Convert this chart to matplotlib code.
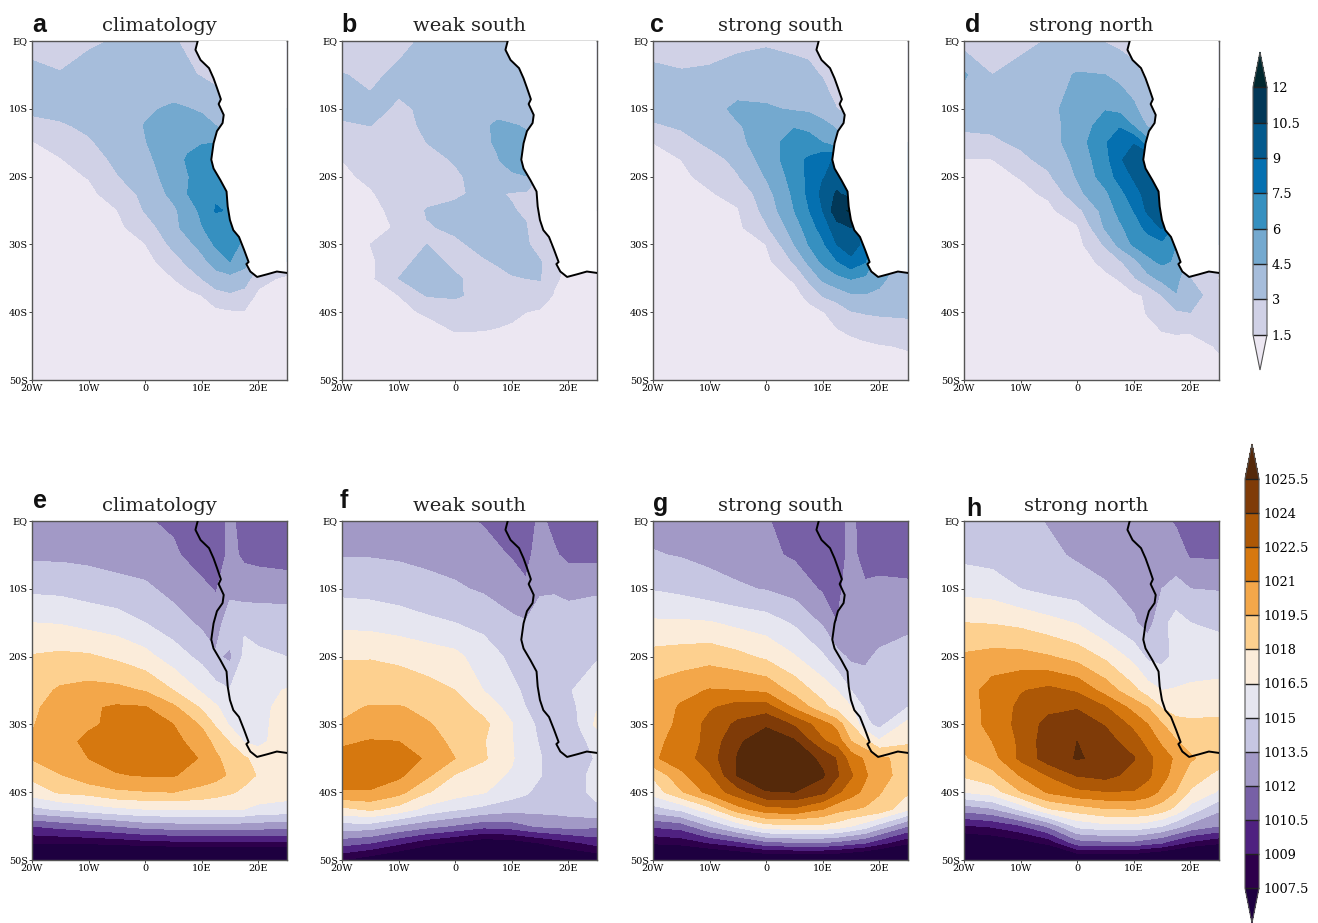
import matplotlib
matplotlib.use('Agg')
import matplotlib.pyplot as plt

# grid of the top row (wind speed)
wind_lons = [-20, -15, -10, -5, 0, 5, 7.5, 10, 12.5, 15, 17.5, 20, 25]
wind_lats = [0, -5, -10, -12.5, -15, -17.5, -20, -22.5, -25, -27.5, -30, -32.5, -35, -37.5, -40, -45, -50]

wind_a = [
    [2.6, 2.2, 2.8, 3.1, 3.3, 3.1, 2.8, 2.5, 2.5, 2.5, 2.5, 2.5, 2.5],
    [3.3, 3.1, 3.5, 3.7, 3.8, 3.5, 3.2, 2.9, 2.6, 2.5, 2.5, 2.5, 2.5],
    [3.3, 3.5, 3.6, 3.8, 4.3, 4.7, 4.55, 4.3, 3.8, 3.2, 3, 3, 3],
    [2.55, 2.8, 3.3, 3.7, 4.55, 5.1, 5.1, 5.0, 4.5, 4, 4, 4, 4],
    [1.4, 2.1, 2.8, 3.7, 4.45, 5.2, 5.6, 5.9, 6, 5, 4, 4, 4],
    [1.0, 1.4, 2.3, 3.3, 4.2, 5.2, 6.2, 6.7, 7.6, 6, 5, 4, 4],
    [0.8, 1.2, 1.55, 2.9, 3.9, 5.1, 5.9, 6.7, 7.2, 6.5, 5, 4, 4],
    [0.7, 0.9, 1.2, 2.1, 3.4, 4.9, 6.0, 6.9, 7.3, 6.8, 5, 4, 4],
    [0.6, 0.8, 1.0, 1.45, 3.1, 4.2, 5.2, 6.3, 7.6, 7.4, 5, 4, 4],
    [0.6, 0.7, 0.9, 1.2, 2.2, 4.1, 5.0, 5.9, 6.8, 7.2, 5.5, 4, 4],
    [0.5, 0.6, 0.8, 1.0, 1.45, 3.4, 4.1, 5.0, 6.2, 6.9, 5.5, 4, 4],
    [0.5, 0.6, 0.7, 0.9, 1.0, 2.3, 3.3, 4.0, 5.2, 6.0, 5.0, 3.5, 3],
    [0.5, 0.5, 0.6, 0.7, 0.8, 1.5, 2.2, 3.0, 3.8, 4.0, 3.8, 2.0, 1.2],
    [0.5, 0.5, 0.6, 0.6, 0.7, 1.0, 1.1, 1.5, 2.5, 2.8, 2.4, 1.2, 1.0],
    [0.4, 0.5, 0.5, 0.6, 0.6, 0.6, 0.6, 0.8, 1.1, 1.3, 1.4, 1.0, 0.8],
    [0.5, 0.5, 0.5, 0.5, 0.5, 0.5, 0.5, 0.5, 0.5, 0.5, 0.5, 0.5, 0.5],
    [0.4, 0.4, 0.4, 0.4, 0.4, 0.4, 0.4, 0.4, 0.4, 0.4, 0.4, 0.4, 0.4],
]
wind_b = [
    [2.0, 2.0, 2.7, 3.2, 3.4, 3.5, 3.4, 3.3, 3, 3, 3, 3, 3],
    [3.05, 2.8, 3.2, 3.4, 3.6, 3.6, 3.5, 3.3, 2.9, 2.8, 3, 3, 3],
    [3.4, 3.2, 2.9, 3.1, 3.6, 4.0, 4.1, 3.8, 3.5, 3, 3, 3, 3],
    [2.8, 3.0, 2.8, 3.1, 3.6, 4.3, 4.7, 4.6, 4.4, 3.5, 3, 3, 3],
    [2.4, 2.6, 2.4, 3.0, 3.4, 4.2, 4.7, 4.9, 4.8, 4, 3, 3, 3],
    [1.5, 2.2, 2.4, 2.6, 3.1, 3.8, 4.4, 5.2, 6.1, 5, 3, 3, 3],
    [1.3, 1.7, 2.2, 2.5, 2.8, 3.5, 3.7, 4.2, 4.4, 3, 3, 3, 3],
    [1.2, 1.4, 2.0, 2.4, 2.8, 3.3, 3.1, 2.9, 2.8, 2.7, 2, 2, 2],
    [1.1, 1.3, 1.7, 3.1, 3.3, 3.4, 3.3, 3.1, 2.8, 2.0, 1.5, 1.5, 1.5],
    [1.0, 1.2, 1.6, 2.9, 3.2, 3.4, 3.4, 3.3, 3.1, 1.8, 1.2, 1.2, 1.2],
    [0.9, 1.5, 2.0, 3.0, 2.8, 3.3, 3.5, 3.4, 3.3, 2.1, 1.2, 1.2, 1.2],
    [0.9, 1.2, 2.7, 3.3, 2.8, 2.9, 3.1, 3.4, 3.4, 3.1, 1.9, 1.2, 1.2],
    [0.8, 1.2, 3.0, 3.3, 3.1, 2.7, 2.7, 2.9, 3.0, 3.1, 1.7, 1.2, 1.1],
    [0.7, 1.0, 1.5, 3.1, 3.2, 2.5, 2.5, 2.4, 2.3, 2.3, 1.4, 1.0, 0.9],
    [0.7, 0.9, 1.3, 1.6, 2.2, 2.1, 2.0, 1.8, 1.5, 1.3, 1.1, 1.0, 0.9],
    [0.5, 0.6, 0.7, 0.8, 1.0, 1.0, 0.9, 0.8, 0.7, 0.7, 0.6, 0.6, 0.6],
    [0.4, 0.4, 0.4, 0.4, 0.4, 0.4, 0.4, 0.4, 0.4, 0.4, 0.4, 0.4, 0.4],
]
wind_c = [
    [2.3, 2.5, 2.5, 2.7, 2.9, 2.7, 2.6, 2.4, 2.3, 2.3, 2.3, 2.3, 2.3],
    [3.4, 3.1, 3.2, 3.5, 3.4, 3.4, 3.3, 2.9, 2.5, 2.3, 2.3, 2.3, 2.3],
    [3.6, 3.7, 4.0, 4.8, 4.7, 4.3, 4.2, 3.8, 3.0, 2.5, 2.5, 2.5, 2.5],
    [2.8, 3.2, 3.6, 4.4, 5.0, 5.9, 5.6, 4.9, 4.3, 3.5, 3, 3, 3],
    [1.5, 2.4, 3.3, 4.0, 5.5, 6.5, 6.6, 6.0, 5.0, 4, 3, 3, 3],
    [1.2, 1.5, 2.4, 3.4, 5.1, 6.9, 7.7, 8.6, 9.2, 8, 5, 4, 4],
    [1.0, 1.3, 1.8, 2.9, 4.6, 6.6, 7.8, 8.9, 9.5, 9, 6, 4, 4],
    [0.9, 1.1, 1.4, 1.9, 3.9, 6.3, 7.8, 9.4, 10.7, 9.8, 6, 4, 4],
    [0.8, 1.0, 1.2, 1.4, 3.5, 6.0, 7.4, 9.0, 11.5, 12.2, 7, 4, 4],
    [0.7, 0.9, 1.0, 1.2, 2.8, 5.2, 6.7, 8.1, 9.9, 10.5, 8, 5, 4],
    [0.6, 0.8, 0.9, 1.0, 1.5, 4.5, 6.0, 7.2, 9.0, 9.8, 8.5, 5, 4],
    [0.6, 0.7, 0.8, 0.9, 1.1, 3.2, 4.8, 6.3, 7.4, 8.6, 7.6, 5, 4],
    [0.5, 0.6, 0.7, 0.8, 0.9, 1.65, 3.3, 4.8, 5.6, 6.1, 5.7, 4.9, 3.4],
    [0.5, 0.5, 0.6, 0.6, 0.8, 1.1, 1.8, 3.1, 3.6, 4.3, 4.4, 4.2, 3.2],
    [0.5, 0.5, 0.6, 0.6, 0.7, 0.9, 1.1, 1.4, 2.1, 2.9, 3.1, 3.2, 3.3],
    [0.5, 0.5, 0.5, 0.5, 0.5, 0.6, 0.6, 0.7, 0.8, 0.9, 1.2, 1.4, 1.6],
    [0.4, 0.4, 0.4, 0.4, 0.4, 0.4, 0.4, 0.5, 0.5, 0.6, 0.7, 0.7, 0.8],
]
wind_d = [
    [2.3, 2.5, 2.6, 3.1, 3.4, 2.9, 2.6, 2.3, 2.2, 2.2, 2.2, 2.2, 2.2],
    [4.7, 3.0, 3.5, 4.0, 4.6, 4.5, 4.1, 3.5, 2.7, 2.4, 2.4, 2.4, 2.4],
    [3.7, 3.4, 3.7, 4.2, 5.0, 5.9, 5.5, 4.8, 3.5, 3, 3, 3, 3],
    [3.3, 3.2, 3.4, 4.0, 5.1, 6.7, 7.4, 5.9, 4.3, 4, 3.5, 3.5, 3.5],
    [2.4, 2.8, 3.2, 3.9, 5.2, 7.4, 8.1, 8.9, 6.5, 5, 4, 4, 4],
    [1.4, 1.45, 2.7, 3.4, 4.9, 7.0, 8.7, 10.0, 10.7, 9, 6, 4, 4],
    [1.1, 1.2, 1.55, 2.8, 4.6, 6.7, 8.0, 9.2, 9.6, 9.6, 6, 4, 4],
    [0.9, 1.0, 1.2, 1.7, 4.1, 5.7, 7.0, 8.3, 9.6, 9.8, 6, 4, 4],
    [0.8, 0.9, 1.0, 1.2, 2.5, 5.1, 6.4, 7.5, 9.3, 10.6, 7, 4, 4],
    [0.7, 0.8, 0.9, 1.0, 1.3, 4.7, 5.7, 6.8, 7.9, 9.2, 7, 4, 4],
    [0.6, 0.7, 0.8, 0.9, 1.0, 3.2, 4.9, 6.2, 6.8, 7.0, 6, 4, 3],
    [0.6, 0.6, 0.7, 0.7, 0.8, 1.9, 2.8, 4.0, 5.6, 6.3, 5.8, 4, 2],
    [0.5, 0.5, 0.6, 0.6, 0.7, 1.2, 1.6, 2.8, 4.0, 4.9, 5.0, 3.0, 1.4],
    [0.5, 0.5, 0.6, 0.6, 0.6, 0.8, 0.9, 1.2, 1.7, 3.0, 4.4, 3.6, 2.2],
    [0.5, 0.5, 0.5, 0.5, 0.5, 0.6, 0.8, 1.0, 1.6, 2.4, 2.8, 3.0, 2.9],
    [0.4, 0.4, 0.4, 0.4, 0.4, 0.5, 0.5, 0.6, 0.7, 0.8, 0.8, 0.6, 1.7],
    [0.4, 0.4, 0.4, 0.4, 0.4, 0.4, 0.4, 0.4, 0.4, 0.4, 0.5, 0.5, 0.6],
]

# grid of the bottom row (sea level pressure)
slp_lons = [-20, -15, -10, -5, 0, 5, 10, 12.5, 15, 17.5, 20, 25]
slp_lats = [0, -5, -10, -15, -20, -25, -27.5, -30, -32.5, -35, -37.5, -40, -42.5, -45, -47.5, -50]

slp_e = [
    [1012.7, 1012.6, 1012.5, 1012.3, 1012.1, 1011.8, 1011.5, 1011.4, 1012.3, 1011.5, 1011.2, 1011.2],
    [1013.2, 1013.2, 1013.1, 1012.9, 1012.6, 1012.2, 1011.4, 1011.3, 1012.3, 1011.8, 1011.5, 1011.4],
    [1014.7, 1014.6, 1014.3, 1014.0, 1013.8, 1013.0, 1012.3, 1011.9, 1013.0, 1012.6, 1012.9, 1012.7],
    [1016.5, 1016.4, 1016.0, 1015.7, 1015.0, 1014.2, 1013.2, 1012.7, 1014.5, 1014.8, 1014.3, 1014.4],
    [1018.1, 1018.3, 1018.2, 1017.7, 1017.0, 1015.7, 1014.6, 1013.7, 1013.2, 1015.3, 1015.3, 1015.0],
    [1018.9, 1019.7, 1020.0, 1019.9, 1019.4, 1018.0, 1016.3, 1015.5, 1015.1, 1015.8, 1016.0, 1016.6],
    [1019.2, 1020.2, 1020.8, 1021.2, 1021.1, 1019.8, 1017.8, 1016.7, 1015.7, 1015.6, 1015.8, 1017.3],
    [1019.4, 1020.3, 1020.8, 1021.3, 1021.2, 1021.0, 1019.3, 1017.8, 1016.3, 1015.7, 1015.6, 1017.9],
    [1019.6, 1020.5, 1021.3, 1021.6, 1021.6, 1021.4, 1020.3, 1019.0, 1017.9, 1016.4, 1016.0, 1017.5],
    [1019.6, 1020.5, 1021.0, 1021.5, 1021.7, 1021.6, 1020.9, 1019.8, 1018.8, 1018.2, 1017.5, 1017.0],
    [1018.4, 1019.4, 1020.5, 1020.9, 1021.1, 1021.1, 1020.3, 1020.0, 1019.3, 1018.5, 1017.9, 1017.3],
    [1017.2, 1018.2, 1018.5, 1019.2, 1019.4, 1019.5, 1019.0, 1018.6, 1018.2, 1017.7, 1017.4, 1017.1],
    [1014.6, 1015.2, 1015.7, 1016.2, 1016.5, 1016.6, 1016.6, 1016.6, 1016.6, 1016.5, 1016.1, 1015.9],
    [1010.5, 1011.0, 1011.5, 1012.0, 1012.6, 1012.8, 1012.9, 1012.9, 1012.9, 1012.8, 1012.7, 1012.6],
    [1007.6, 1007.6, 1007.7, 1007.9, 1008.3, 1008.5, 1008.6, 1008.7, 1008.7, 1008.7, 1008.7, 1008.7],
    [1003, 1003, 1003, 1003, 1003, 1003, 1003, 1003, 1003, 1003, 1003, 1003],
]
slp_f = [
    [1013.0, 1012.9, 1012.8, 1012.6, 1012.3, 1011.9, 1011.4, 1011.3, 1012.3, 1011.6, 1011.2, 1011.2],
    [1013.4, 1013.4, 1013.3, 1013.1, 1012.9, 1012.5, 1011.9, 1011.6, 1012.6, 1012.2, 1011.6, 1011.6],
    [1014.6, 1014.5, 1014.3, 1014.0, 1013.7, 1013.3, 1012.7, 1012.2, 1013.2, 1013.2, 1013.2, 1013.2],
    [1016.1, 1016.0, 1015.7, 1015.3, 1015.0, 1014.6, 1013.8, 1013.6, 1014.5, 1014.9, 1014.0, 1014.6],
    [1017.9, 1017.9, 1017.7, 1017.3, 1016.9, 1015.7, 1014.7, 1014.2, 1014.0, 1014.5, 1014.6, 1014.8],
    [1018.8, 1018.9, 1018.8, 1018.5, 1018.0, 1016.5, 1015.3, 1014.8, 1014.3, 1014.2, 1014.8, 1016.2],
    [1019.2, 1019.6, 1019.6, 1019.2, 1018.7, 1017.5, 1015.9, 1015.0, 1014.5, 1014.2, 1014.4, 1016.4],
    [1019.6, 1020.0, 1020.0, 1019.6, 1019.1, 1018.4, 1016.6, 1015.5, 1014.7, 1014.3, 1014.0, 1016.8],
    [1020.7, 1021.1, 1021.0, 1020.2, 1019.1, 1018.1, 1016.6, 1015.5, 1014.9, 1014.3, 1014.1, 1015.5],
    [1021.6, 1021.7, 1021.4, 1020.9, 1019.5, 1018.2, 1016.7, 1015.5, 1015.1, 1014.4, 1014.2, 1015.1],
    [1021.5, 1021.5, 1021.3, 1019.8, 1017.9, 1017.1, 1016.3, 1015.6, 1015.1, 1014.4, 1014.3, 1015.4],
    [1020.9, 1020.9, 1020.0, 1018.1, 1017.2, 1016.6, 1015.7, 1015.2, 1014.5, 1014.2, 1014.3, 1015.4],
    [1017.6, 1018.3, 1017.4, 1016.0, 1015.2, 1014.6, 1014.0, 1014.0, 1014.0, 1014.0, 1014.2, 1014.7],
    [1014.4, 1014.3, 1013.3, 1012.5, 1011.8, 1011.0, 1011.3, 1011.8, 1012.2, 1012.4, 1012.5, 1012.3],
    [1011.1, 1010.5, 1009.3, 1008.0, 1007.2, 1006.3, 1006.5, 1007.0, 1007.5, 1008.0, 1008.5, 1009.5],
    [1007.5, 1006.5, 1005.5, 1004.5, 1004.0, 1003.5, 1004.0, 1004.2, 1004.5, 1005.0, 1005.5, 1006.0],
]
slp_g = [
    [1013.0, 1012.9, 1012.7, 1012.5, 1012.1, 1011.5, 1011.0, 1011.4, 1012.4, 1011.2, 1010.8, 1011.0],
    [1013.6, 1013.4, 1013.1, 1012.8, 1012.3, 1011.8, 1011.2, 1011.0, 1012.6, 1011.2, 1011.5, 1011.5],
    [1014.9, 1014.6, 1014.1, 1013.7, 1013.4, 1012.9, 1011.8, 1011.6, 1012.7, 1012.3, 1012.3, 1012.2],
    [1016.7, 1016.7, 1016.6, 1016.1, 1015.7, 1014.8, 1013.3, 1012.0, 1012.6, 1013.3, 1012.9, 1013.2],
    [1018.5, 1018.7, 1018.9, 1018.4, 1017.7, 1016.6, 1015.2, 1014.0, 1013.2, 1013.3, 1013.7, 1014.0],
    [1019.9, 1020.5, 1021.1, 1021.0, 1020.7, 1019.0, 1017.3, 1016.5, 1015.0, 1014.0, 1013.8, 1014.0],
    [1020.0, 1021.2, 1022.3, 1023.2, 1023.2, 1020.7, 1018.5, 1017.4, 1016.6, 1014.8, 1014.0, 1015.0],
    [1020.3, 1021.3, 1023.0, 1024.3, 1025.3, 1023.8, 1021.6, 1020.5, 1018.0, 1015.4, 1014.5, 1017.0],
    [1020.7, 1021.4, 1023.0, 1025.3, 1026.3, 1025.7, 1022.7, 1021.9, 1019.5, 1018.3, 1016.7, 1017.8],
    [1020.8, 1021.7, 1023.3, 1025.6, 1026.6, 1026.6, 1025.1, 1023.9, 1021.8, 1020.8, 1019.9, 1018.8],
    [1018.2, 1020.7, 1022.3, 1025.6, 1026.6, 1026.6, 1025.7, 1024.2, 1022.7, 1021.2, 1020.0, 1018.9],
    [1017.1, 1019.3, 1021.5, 1023.3, 1025.4, 1025.5, 1024.3, 1022.8, 1021.6, 1020.6, 1019.6, 1018.2],
    [1014.4, 1015.4, 1017.5, 1020.4, 1021.9, 1022.2, 1021.0, 1020.0, 1019.6, 1019.3, 1019.0, 1016.8],
    [1010.7, 1011.2, 1013.5, 1015.5, 1017.4, 1017.6, 1017.6, 1017.3, 1016.5, 1015.7, 1014.4, 1012.0],
    [1007.7, 1008.0, 1009.0, 1010.0, 1011.4, 1011.8, 1011.8, 1011.5, 1011.0, 1010.5, 1009.5, 1007.7],
    [1003, 1003.5, 1004, 1004.5, 1005, 1005, 1005, 1004.8, 1004.5, 1004, 1003.5, 1003],
]
slp_h = [
    [1014.0, 1014.0, 1013.9, 1013.4, 1013.2, 1013.0, 1012.8, 1013.2, 1012.4, 1011.8, 1011.5, 1011.7],
    [1014.6, 1014.4, 1014.2, 1013.8, 1013.3, 1012.9, 1012.7, 1012.9, 1013.3, 1012.8, 1011.8, 1011.8],
    [1016.0, 1015.8, 1015.0, 1014.5, 1014.2, 1013.7, 1013.0, 1012.7, 1013.5, 1013.9, 1013.5, 1013.4],
    [1018.0, 1017.9, 1017.6, 1017.0, 1016.4, 1015.0, 1013.7, 1012.9, 1014.5, 1015.6, 1015.0, 1014.8],
    [1019.7, 1020.0, 1020.0, 1019.6, 1018.9, 1017.7, 1016.0, 1014.7, 1014.5, 1015.4, 1015.5, 1015.5],
    [1020.2, 1021.7, 1022.4, 1022.9, 1022.3, 1020.4, 1018.4, 1017.2, 1016.5, 1016.6, 1016.8, 1017.0],
    [1020.1, 1021.6, 1022.8, 1023.6, 1023.9, 1022.6, 1020.5, 1019.5, 1017.9, 1017.4, 1017.4, 1017.6],
    [1020.3, 1021.4, 1023.0, 1024.5, 1024.7, 1023.9, 1022.1, 1021.0, 1019.6, 1018.5, 1018.3, 1018.3],
    [1019.9, 1021.0, 1022.8, 1024.9, 1025.5, 1024.6, 1023.2, 1022.0, 1020.7, 1019.6, 1018.9, 1018.5],
    [1019.3, 1020.4, 1022.8, 1024.8, 1025.6, 1025.2, 1024.1, 1022.9, 1021.8, 1020.7, 1019.7, 1018.7],
    [1018.2, 1019.0, 1021.1, 1022.6, 1024.1, 1024.5, 1023.5, 1022.8, 1021.6, 1020.3, 1018.8, 1017.6],
    [1016.5, 1017.2, 1019.4, 1021.2, 1022.1, 1022.4, 1022.4, 1021.8, 1020.6, 1019.4, 1017.8, 1016.3],
    [1012.6, 1013.3, 1015.3, 1017.9, 1018.7, 1019.4, 1019.5, 1019.3, 1018.7, 1017.5, 1015.9, 1013.8],
    [1008.8, 1009.2, 1010.3, 1012.3, 1015.4, 1016.0, 1016.0, 1015.6, 1015.0, 1014.0, 1013.0, 1012.0],
    [1005.5, 1006.0, 1006.7, 1007.9, 1011.2, 1011.5, 1011.5, 1011.0, 1010.5, 1009.5, 1008.6, 1007.7],
    [1002, 1002, 1002.5, 1003, 1005, 1005, 1005, 1004.5, 1004, 1003.5, 1003, 1002.5],
]

# african coast
coast_lon = [9.3, 8.9, 9.8, 11.3, 12.1, 12.7, 13.4, 13.0, 13.9, 13.7, 12.7, 12.1, 11.7, 12.1, 13.3, 14.4,
             14.6, 15.0, 15.6, 16.6, 17.5, 18.3, 17.9, 18.6, 19.8, 21.6, 23.3, 25.0]
coast_lat = [0, -1.3, -2.8, -4, -5.5, -6.9, -8.6, -9.3, -10.9, -12.1, -13.3, -15.1, -17.5, -18.8, -20.5, -22.2,
             -24.4, -26.4, -27.9, -28.9, -30.8, -32.6, -32.9, -34, -34.8, -34.4, -34, -34.2]

wind_levels = [1.5, 3, 4.5, 6, 7.5, 9, 10.5, 12]
wind_colors = ['#ece7f2', '#d0d1e6', '#a6bddb', '#74a9cf', '#3690c0', '#0570b0', '#045a8d', '#023858', '#02282f']
wind_labels = ['1.5', '3', '4.5', '6', '7.5', '9', '10.5', '12']

slp_levels = [1007.5, 1009, 1010.5, 1012, 1013.5, 1015, 1016.5, 1018, 1019.5, 1021, 1022.5, 1024, 1025.5]
slp_colors = ['#1e0040', '#2d004b', '#4f2180', '#7760a6', '#a299c6', '#c6c6e2', '#e6e6f0', '#fbecda',
              '#fdd08f', '#f3a74a', '#d6780f', '#ad5806', '#7f3b08', '#55290a']
slp_labels = ['1007.5', '1009', '1010.5', '1012', '1013.5', '1015', '1016.5', '1018', '1019.5', '1021',
              '1022.5', '1024', '1025.5']

titles = ['climatology', 'weak south', 'strong south', 'strong north']
letters_top = ['a', 'b', 'c', 'd']
letters_bottom = ['e', 'f', 'g', 'h']
lon_ticks = [-20, -10, 0, 10, 20]
lon_labels = ['20W', '10W', '0', '10E', '20E']
lat_ticks = [0, -10, -20, -30, -40, -50]
lat_labels = ['EQ', '10S', '20S', '30S', '40S', '50S']

W, H = 1318, 923
serif = 'DejaVu Serif'
panel_left = [32, 342, 653, 964]


def pos(x0, y0, x1, y1):
    # pixel box to figure fractions
    return [x0 / W, 1 - y1 / H, (x1 - x0) / W, (y1 - y0) / H]


def panel(box, lons, lats, z, levels, colors, title, letter, letter_xy, white_land, title_x=0.5):
    ax = fig.add_axes(box)
    cs = ax.contourf(lons, lats, z, levels=levels, colors=colors, extend='both')
    if white_land:
        ax.fill(coast_lon + [25, 25], coast_lat + [0, 0], color='white', zorder=3, lw=0)
    ax.plot(coast_lon, coast_lat, color='black', lw=1.4, zorder=4)
    ax.set_xlim(-20, 25)
    ax.set_ylim(-50, 0)
    ax.set_xticks(lon_ticks)
    ax.set_xticklabels(lon_labels, family=serif, fontsize=7)
    ax.set_yticks(lat_ticks)
    ax.set_yticklabels(lat_labels, family=serif, fontsize=7)
    ax.tick_params(length=2, width=0.7, pad=1, color='#444444')
    for s in ax.spines.values():
        s.set_color('#555555')
        s.set_linewidth(1.0)
    ax.set_title(title, family=serif, fontsize=14, pad=7.5, color='#222222', x=title_x)
    fig.text(letter_xy[0] / W, 1 - letter_xy[1] / H, letter, family='Liberation Sans', weight='bold',
             fontsize=18, color='#111111')
    return cs


fig = plt.figure(figsize=(W / 100, H / 100), dpi=100)

wind_grids = [wind_a, wind_b, wind_c, wind_d]
slp_grids = [slp_e, slp_f, slp_g, slp_h]
top_letter_xy = [(32, 32), (341, 32), (650, 32), (965, 32)]
bottom_letter_xy = [(33, 508), (340, 508), (653, 511), (966, 516)]
bottom_title_x = [0.5, 0.5, 0.5, 0.48]

for i in range(4):
    x0 = panel_left[i]
    cs_top = panel(pos(x0, 41, x0 + 254.5, 380), wind_lons, wind_lats, wind_grids[i], wind_levels, wind_colors,
                   titles[i], letters_top[i], top_letter_xy[i], True)
    cs_bottom = panel(pos(x0, 521, x0 + 254.5, 860), slp_lons, slp_lats, slp_grids[i], slp_levels, slp_colors,
                      titles[i], letters_bottom[i], bottom_letter_xy[i], False, bottom_title_x[i])

# the box includes the triangles
cax1 = fig.add_axes(pos(1253, 52, 1267, 370))
cb1 = fig.colorbar(cs_top, cax=cax1, extendfrac=0.142, drawedges=True)
cb1.set_ticks(wind_levels)
cb1.set_ticklabels(wind_labels, family=serif, fontsize=9.3)

cax2 = fig.add_axes(pos(1245, 444, 1259, 923))
cb2 = fig.colorbar(cs_bottom, cax=cax2, extendfrac=0.085, drawedges=True)
cb2.set_ticks(slp_levels)
cb2.set_ticklabels(slp_labels, family=serif, fontsize=9.3)

for cb in [cb1, cb2]:
    cb.ax.tick_params(length=0, pad=3.5)
    cb.ax.minorticks_off()
    cb.outline.set_edgecolor('#555555')
    cb.outline.set_linewidth(0.8)
    cb.dividers.set_color('#222222')
    cb.dividers.set_linewidth(1.0)

fig.savefig('out.png', dpi=100)
